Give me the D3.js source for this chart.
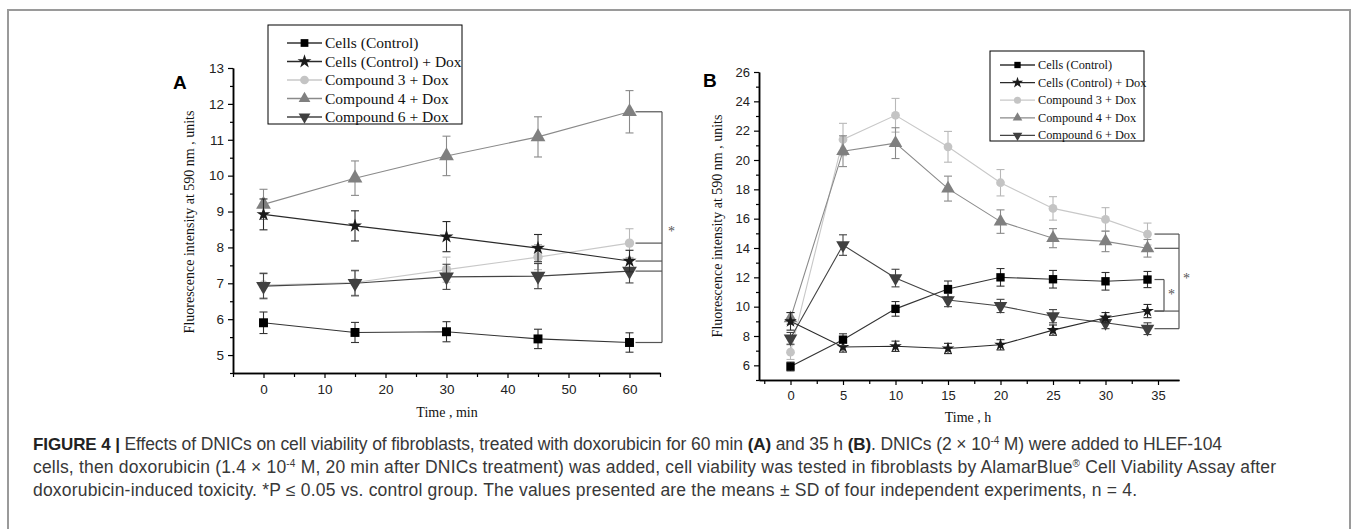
<!DOCTYPE html>
<html>
<head>
<meta charset="utf-8">
<script src="https://cdn.jsdelivr.net/npm/d3@7"></script>
<style>
    body { margin: 0; background: #fff; }
    svg { display: block; }
    .tick text { font-family: "Liberation Sans", Arial, sans-serif; fill: #222; }
    .serif { font-family: "Liberation Serif", "Times New Roman", serif; fill: #111; }
</style>
</head>
<body>
<svg id="chart" width="1355" height="529"></svg>
<script>
// Series names (legend order)
const seriesNames = ["Cells (Control)", "Cells (Control) + Dox", "Compound 3 + Dox", "Compound 4 + Dox", "Compound 6 + Dox"];

// Panel A: time in minutes
const timeA = [0, 15, 30, 45, 60];
const cellsA = [5.9, 5.63, 5.65, 5.45, 5.35];
const cellsErrA = [0.3, 0.28, 0.28, 0.27, 0.27];
const cellsDoxA = [8.92, 8.6, 8.3, 7.98, 7.62];
const cellsDoxErrA = [0.43, 0.42, 0.42, 0.38, 0.3];
const comp3A = [6.95, 7.02, 7.38, 7.73, 8.12];
const comp3ErrA = [0.35, 0.35, 0.35, 0.35, 0.4];
const comp4A = [9.2, 9.93, 10.55, 11.08, 11.78];
const comp4ErrA = [0.42, 0.48, 0.55, 0.56, 0.59];
const comp6A = [6.92, 7.0, 7.18, 7.2, 7.34];
const comp6ErrA = [0.35, 0.35, 0.35, 0.35, 0.33];

// Panel B: time in hours
const timeB = [0, 5, 10, 15, 20, 25, 30, 34];
const cellsB = [5.92, 7.75, 9.85, 11.2, 12.0, 11.87, 11.73, 11.85];
const cellsErrB = [0.3, 0.4, 0.5, 0.55, 0.6, 0.6, 0.6, 0.55];
const cellsDoxB = [9.0, 7.25, 7.3, 7.15, 7.4, 8.4, 9.25, 9.7];
const cellsDoxErrB = [0.6, 0.35, 0.35, 0.35, 0.35, 0.35, 0.35, 0.45];
const comp3B = [6.9, 21.4, 23.05, 20.9, 18.45, 16.7, 15.95, 14.95];
const comp3ErrB = [0.5, 1.1, 1.15, 1.05, 0.9, 0.8, 0.8, 0.75];
const comp4B = [9.2, 20.6, 21.15, 18.05, 15.8, 14.67, 14.45, 13.98];
const comp4ErrB = [0.4, 1.05, 1.05, 0.85, 0.8, 0.65, 0.7, 0.6];
const comp6B = [7.84, 14.2, 11.95, 10.45, 10.05, 9.35, 8.9, 8.5];
const comp6ErrB = [0.4, 0.7, 0.6, 0.45, 0.45, 0.45, 0.4, 0.4];

// Tick values
const xTicksA = [0, 10, 20, 30, 40, 50, 60];
const xMinorA = [-5, 5, 15, 25, 35, 45, 55, 65];
const yTicksA = [5, 6, 7, 8, 9, 10, 11, 12, 13];
const yMinorA = [4.5, 5.5, 6.5, 7.5, 8.5, 9.5, 10.5, 11.5, 12.5];
const xTicksB = [0, 5, 10, 15, 20, 25, 30, 35];
const xMinorB = [-2.5, 2.5, 7.5, 12.5, 17.5, 22.5, 27.5, 32.5];
const yTicksB = [6, 8, 10, 12, 14, 16, 18, 20, 22, 24, 26];
const yMinorB = [5, 7, 9, 11, 13, 15, 17, 19, 21, 23, 25];

// Significance brackets: which series (by index) they join
const bracketA = [0, 1, 2, 3, 4];
const bracketBOuter = [1, 2, 3, 4];
const bracketBInner = [0, 1];

// Look of each series
const colors = ["#000000", "#1a1a1a", "#c4c4c4", "#808080", "#404040"];
const lineColors = ["#333333", "#2a2a2a", "#c8c8c8", "#8a8a8a", "#444444"];
const shapes = ["square", "star", "circle", "triangle", "down"];

const svg = d3.select("#chart");

// outer frame of the figure
svg.append("path")
    .attr("d", "M8,529 L8,10 L1350,10 L1350,529")
    .attr("fill", "none")
    .attr("stroke", "#9a9a9a")
    .attr("stroke-width", 2);

function markerPath(shape, size) {
    let type = d3.symbolSquare;
    if (shape === "star") type = d3.symbolStar;
    if (shape === "circle") type = d3.symbolCircle;
    if (shape === "triangle" || shape === "down") type = d3.symbolTriangle;
    return d3.symbol().type(type).size(size)();
}

function drawPanel(opts) {
    const g = svg.append("g");
    const x = d3.scaleLinear().domain(opts.xDomain).range(opts.xRange);
    const y = d3.scaleLinear().domain(opts.yDomain).range(opts.yRange);
    const x0 = opts.xRange[0], y0 = opts.yRange[0];

    // axes: labelled ticks plus minor ones
    const styleAxis = a => {
        a.select(".domain").attr("stroke", "#000").attr("stroke-width", 1.5);
        a.selectAll(".tick line").attr("stroke", "#000").attr("stroke-width", 1.2);
        a.selectAll(".tick text").style("font-size", opts.tickFont + "px");
    };
    g.append("g").attr("transform", `translate(0,${y0})`)
        .call(d3.axisBottom(x).tickValues(opts.xTicks).tickSize(5).tickSizeOuter(0).tickPadding(6).tickFormat(d3.format("d")))
        .call(styleAxis);
    g.append("g").attr("transform", `translate(0,${y0})`)
        .call(d3.axisBottom(x).tickValues(opts.xMinor).tickSize(4).tickSizeOuter(0).tickFormat(""))
        .call(styleAxis);
    g.append("g").attr("transform", `translate(${x0},0)`)
        .call(d3.axisLeft(y).tickValues(opts.yTicks).tickSize(5).tickSizeOuter(0).tickPadding(4).tickFormat(d3.format("d")))
        .call(styleAxis);
    g.append("g").attr("transform", `translate(${x0},0)`)
        .call(d3.axisLeft(y).tickValues(opts.yMinor).tickSize(3).tickSizeOuter(0).tickFormat(""))
        .call(styleAxis);

    // axis titles
    g.append("text").attr("class", "serif")
        .attr("x", opts.xTitlePos[0]).attr("y", opts.xTitlePos[1])
        .attr("text-anchor", "middle").style("font-size", "14px")
        .text(opts.xTitle);
    g.append("text").attr("class", "serif")
        .attr("transform", `translate(${opts.yTitlePos[0]},${opts.yTitlePos[1]}) rotate(-90)`)
        .attr("text-anchor", "middle").style("font-size", "14px")
        .text("Fluorescence intensity at 590 nm , units");

    // panel letter
    g.append("text")
        .attr("x", opts.letterPos[0]).attr("y", opts.letterPos[1])
        .style("font-family", "Liberation Sans, Arial, sans-serif")
        .style("font-weight", "bold").style("font-size", "19px")
        .text(opts.letter);

    // lines, error bars and markers; draw from last series so control stays on top
    const line = d3.line().x(d => x(d.t)).y(d => y(d.v));
    const order = [2, 3, 4, 1, 0];
    order.forEach(s => {
        const pts = opts.time.map((t, i) => ({ t: t, v: opts.values[s][i], e: opts.errors[s][i] }));
        g.append("path").datum(pts)
            .attr("d", line).attr("fill", "none")
            .attr("stroke", lineColors[s]).attr("stroke-width", 1.1);
        const eb = g.append("g").attr("stroke", s === 2 ? "#b8b8b8" : lineColors[s]).attr("stroke-width", 1.1);
        pts.forEach(p => {
            eb.append("line").attr("x1", x(p.t)).attr("x2", x(p.t)).attr("y1", y(p.v - p.e)).attr("y2", y(p.v + p.e));
            eb.append("line").attr("x1", x(p.t) - 4).attr("x2", x(p.t) + 4).attr("y1", y(p.v - p.e)).attr("y2", y(p.v - p.e));
            eb.append("line").attr("x1", x(p.t) - 4).attr("x2", x(p.t) + 4).attr("y1", y(p.v + p.e)).attr("y2", y(p.v + p.e));
        });
        g.selectAll(null).data(pts).enter().append("path")
            .attr("d", markerPath(shapes[s], opts.markerSizes[s]))
            .attr("transform", d => `translate(${x(d.t)},${y(d.v)})` + (shapes[s] === "down" ? " rotate(180)" : ""))
            .attr("fill", colors[s]);
    });

    // legend box
    const lg = g.append("g");
    const L = opts.legend;
    lg.append("rect").attr("x", L.x).attr("y", L.y).attr("width", L.w).attr("height", L.h)
        .attr("fill", "#fff").attr("stroke", "#000").attr("stroke-width", 1);
    seriesNames.forEach((name, i) => {
        const ly = L.y + L.first + i * L.step;
        lg.append("line").attr("x1", L.x + L.lineStart).attr("x2", L.x + L.lineStart + 35)
            .attr("y1", ly).attr("y2", ly).attr("stroke", lineColors[i]).attr("stroke-width", 1.3);
        lg.append("path").attr("d", markerPath(shapes[i], L.marker))
            .attr("transform", `translate(${L.x + L.lineStart + 17.5},${ly})` + (shapes[i] === "down" ? " rotate(180)" : ""))
            .attr("fill", colors[i]);
        lg.append("text").attr("class", "serif")
            .attr("x", L.x + L.lineStart + 38).attr("y", ly + L.font * 0.33)
            .style("font-size", L.font + "px").text(name);
    });

    return { x: x, y: y, g: g };
}

// bracket helper: short ticks from each series' last point to a vertical bar
function drawBracket(panel, values, members, tLast, xStart, xBar, star) {
    const last = values.map(v => v[v.length - 1]);
    const ys = members.map(s => panel.y(last[s]));
    const b = panel.g.append("g").attr("stroke", "#555").attr("stroke-width", 1.2).attr("fill", "none");
    ys.forEach(yy => {
        b.append("line").attr("x1", panel.x(tLast) + xStart).attr("x2", xBar).attr("y1", yy).attr("y2", yy);
    });
    b.append("line").attr("x1", xBar).attr("x2", xBar).attr("y1", d3.min(ys)).attr("y2", d3.max(ys));
    panel.g.append("text").attr("class", "serif")
        .attr("x", star[0]).attr("y", star[1])
        .style("font-size", "14px").style("fill", "#555").text("*");
}

// Panel A
const valuesA = [cellsA, cellsDoxA, comp3A, comp4A, comp6A];
const panelA = drawPanel({
    xDomain: [-5, 65], xRange: [233, 660],
    yDomain: [4.5, 13], yRange: [373, 68],
    xTicks: xTicksA, xMinor: xMinorA, yTicks: yTicksA, yMinor: yMinorA,
    tickFont: 13.5,
    time: timeA, values: valuesA,
    errors: [cellsErrA, cellsDoxErrA, comp3ErrA, comp4ErrA, comp6ErrA],
    markerSizes: [80, 60, 70, 95, 95],
    xTitle: "Time , min", xTitlePos: [447, 417],
    yTitlePos: [194, 222],
    letter: "A", letterPos: [173, 89],
    legend: { x: 268, y: 25, w: 194, h: 99, first: 18, step: 18.5, lineStart: 19, marker: 60, font: 15.5 }
});
drawBracket(panelA, valuesA, bracketA, 60, 6, 662, [668, 236]);

// Panel B
const valuesB = [cellsB, cellsDoxB, comp3B, comp4B, comp6B];
const panelB = drawPanel({
    xDomain: [-3, 37], xRange: [759, 1179],
    yDomain: [5, 26], yRange: [380, 72],
    xTicks: xTicksB, xMinor: xMinorB, yTicks: yTicksB, yMinor: yMinorB,
    tickFont: 13,
    time: timeB, values: valuesB,
    errors: [cellsErrB, cellsDoxErrB, comp3ErrB, comp4ErrB, comp6ErrB],
    markerSizes: [70, 50, 60, 80, 80],
    xTitle: "Time , h", xTitlePos: [968, 422],
    yTitlePos: [722, 226],
    letter: "B", letterPos: [703, 87],
    legend: { x: 990, y: 51, w: 154, h: 90, first: 14, step: 17.6, lineStart: 10, marker: 40, font: 12.3 }
});
drawBracket(panelB, valuesB, bracketBOuter, 34, 7, 1179, [1183, 283]);
drawBracket(panelB, valuesB, bracketBInner, 34, 7, 1164, [1168, 299]);

// Caption, three lines with bold and superscript pieces
const captionLines = [
    [["FIGURE 4 | ", "b"], ["Effects of DNICs on cell viability of fibroblasts, treated with doxorubicin for 60 min "], ["(A)", "b"], [" and 35 h "], ["(B)", "b"], [". DNICs (2 × 10"], ["-4", "sup"], [" M) were added to HLEF-104"]],
    [["cells, then doxorubicin (1.4 × 10"], ["-4", "sup"], [" M, 20 min after DNICs treatment) was added, cell viability was tested in fibroblasts by AlamarBlue"], ["®", "sup"], [" Cell Viability Assay after"]],
    [["doxorubicin-induced toxicity. *P ≤ 0.05 vs. control group. The values presented are the means ± SD of four independent experiments, n = 4."]]
];
const captionWidths = [1189, 1243, 1104];
captionLines.forEach((parts, li) => {
    const t = svg.append("text")
        .attr("x", 33).attr("y", 450 + li * 23)
        .attr("textLength", captionWidths[li]).attr("lengthAdjust", "spacing")
        .style("font-family", "'Liberation Sans Narrow', 'Arial Narrow', 'Liberation Sans', sans-serif")
        .style("font-size", "17.5px").style("fill", "#383838");
    let raised = false;
    parts.forEach(p => {
        const sp = t.append("tspan").text(p[0]);
        if (p[1] === "b") sp.style("font-weight", "bold").style("fill", "#222").style("font-size", "17px");
        if (p[1] === "sup") {
            sp.style("font-size", "10px").attr("dy", -6);
            raised = true;
        } else if (raised) {
            sp.attr("dy", 6);
            raised = false;
        }
    });
});
</script>
</body>
</html>
